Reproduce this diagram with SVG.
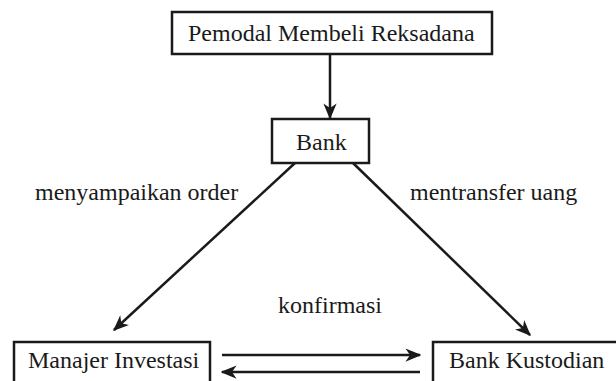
<svg xmlns="http://www.w3.org/2000/svg" width="616" height="381" viewBox="0 0 616 381">
<style>
.box{fill:#fff;stroke:#1a1a1a;stroke-width:2.5}
.t{font-family:"Liberation Serif","Times New Roman",serif;font-size:24px;fill:#1a1a1a}
.c{stroke:#1a1a1a;stroke-width:2.5;fill:none;marker-end:url(#ah)}
</style>
<defs>
<marker id="ah" viewBox="0 0 12 10" refX="11" refY="5" markerWidth="6.4" markerHeight="5.3" markerUnits="strokeWidth" orient="auto">
<path d="M0,0 L12,5 L0,10 L3.5,5 Z" fill="#1a1a1a"/>
</marker>
</defs>
<rect width="616" height="381" fill="#fff"/>
<g id="connectors">
<line class="c" x1="330" y1="54" x2="330" y2="118"/>
<line class="c" x1="295" y1="163" x2="114" y2="330"/>
<line class="c" x1="353" y1="163" x2="530" y2="335"/>
<line class="c" x1="222" y1="355" x2="420" y2="355"/>
<line class="c" x1="420" y1="372" x2="222" y2="372"/>
</g>
<g id="labels">
<text class="t" x="35" y="200">menyampaikan order</text>
<text class="t" x="410" y="200">mentransfer uang</text>
<text class="t" x="278" y="313">konfirmasi</text>
</g>
<g id="pemodal">
<rect class="box" x="172" y="12" width="320" height="42"/>
<text class="t" x="188" y="41">Pemodal Membeli Reksadana</text>
</g>
<g id="bank">
<rect class="box" x="272" y="119" width="97" height="44"/>
<text class="t" x="296" y="150">Bank</text>
</g>
<g id="manajer">
<rect class="box" x="14" y="342" width="196" height="50"/>
<text class="t" x="28" y="368">Manajer Investasi</text>
</g>
<g id="kustodian">
<rect class="box" x="433" y="342" width="190" height="50"/>
<text class="t" x="449" y="368">Bank Kustodian</text>
</g>
</svg>
